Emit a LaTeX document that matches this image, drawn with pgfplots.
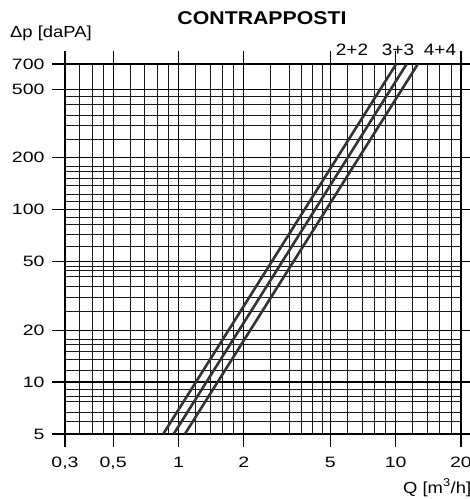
\documentclass[border=0pt]{standalone}
\usepackage{fontspec}
\setmainfont{Liberation Sans}[FakeStretch=1.15]
\newfontfamily\tickfont{Liberation Sans}[FakeStretch=1.3]
\usepackage{pgfplots}
\pgfplotsset{compat=1.18}
\begin{document}
\begin{tikzpicture}
\useasboundingbox (-65pt,-65pt) rectangle (405pt,434pt);
\begin{axis}[
  at={(0pt,0pt)}, anchor=south west,
  scale only axis, width=396pt, height=370pt,
  xmode=log, ymode=log,
  xmin=0.3, xmax=20, ymin=5, ymax=700,
  xtick={0.3,0.5,1,2,5,10,20},
  xticklabels={{0,3},{0,5},1,2,5,10,20},
  ytick={5,10,20,50,100,200,500,700},
  yticklabels={5,10,20,50,100,200,500,700},
  minor xtick={0.35,0.4,0.45,0.6,0.7,0.8,0.9,1.2,1.4,1.6,1.8,2.65,3.25,3.7,4.15,4.6,6,7,8,9,12,14,16,18},
  minor ytick={5.9,6.7,7.7,8.3,9.1,11.7,13.6,15.1,16.6,17.7,25.7,31,36,41,44.4,46.9,61,72,82,90,111,122,138,151,166,177,254,306,354,410,456},
  grid=both,
  major grid style={black, line width=1.2pt},
  minor grid style={black!90, line width=1pt},
  tick align=outside, major tick length=13pt, minor tick length=0pt,
  tick style={black, line width=1.2pt},
  axis line style={black, line width=1.2pt},
  ticklabel style={font=\tickfont\fontsize{15}{15}\selectfont},
  xticklabel style={yshift=-7pt},
  yticklabel style={xshift=-4pt},
  /pgf/number format/assume math mode=true,
  clip=true,
]
\addplot[line width=2.6pt, color=black!80] coordinates {(0.85,5) (10.06,700)};
\addplot[line width=2.6pt, color=black!80] coordinates {(0.95,5) (11.24,700)};
\addplot[line width=2.6pt, color=black!80] coordinates {(1.07,5) (12.66,700)};
\end{axis}
\node[anchor=base, font=\fontsize{18.5}{18.5}\selectfont\bfseries] at (197pt,409pt) {CONTRAPPOSTI};
\node[anchor=base west, inner sep=0pt, font=\fontsize{16}{16}\selectfont] at (-55pt,396pt) {Δp [daPA]};
\node[anchor=base, inner sep=0pt, font=\fontsize{16.5}{16.5}\selectfont] at (287pt,378pt) {2+2};
\node[anchor=base, inner sep=0pt, font=\fontsize{16.5}{16.5}\selectfont] at (333pt,378pt) {3+3};
\node[anchor=base, inner sep=0pt, font=\fontsize{16.5}{16.5}\selectfont] at (375pt,378pt) {4+4};
\node[anchor=base west, inner sep=0pt, font=\fontsize{16}{16}\selectfont] at (338pt,-59pt) {Q [m\textsuperscript{3}/h]};
\end{tikzpicture}
\end{document}
